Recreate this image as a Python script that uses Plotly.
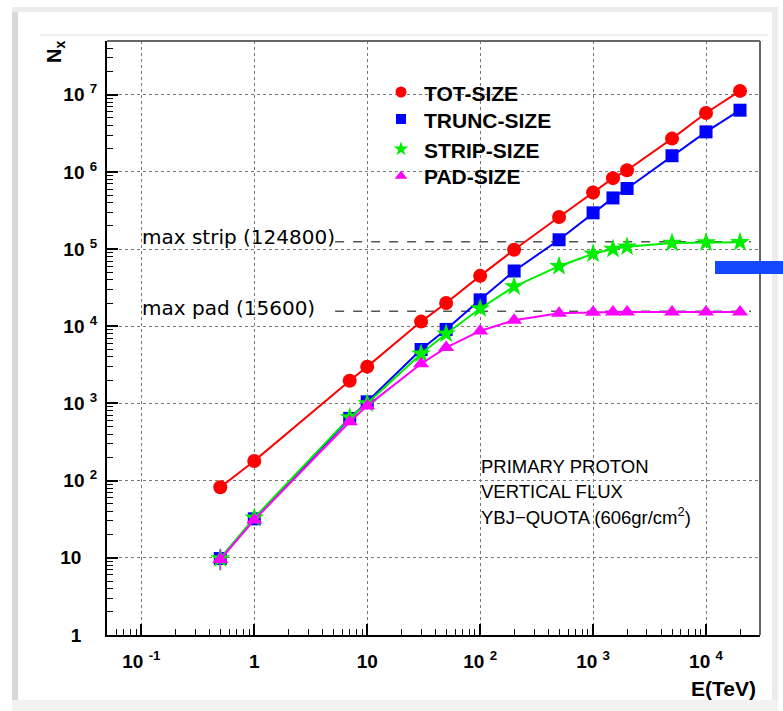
import plotly.graph_objects as go

# ---------------- data ----------------
energy = [0.5, 1, 7, 10, 30, 50, 100, 200, 500, 1000, 1500, 2000, 5000, 10000, 20000]
tot_size = [82, 180, 1970, 3000, 11500, 20000, 45000, 98000, 2.6e5, 5.4e5, 8.3e5,
            1.05e6, 2.7e6, 5.8e6, 1.12e7]
trunc_size = [9.8, 32, 640, 1050, 5000, 9100, 22000, 52000, 1.32e5, 2.95e5, 4.6e5,
              6.1e5, 1.62e6, 3.3e6, 6.3e6]
strip_size = [9.8, 33, 660, 1000, 4400, 8000, 17000, 32700, 60000, 87000, 1.0e5,
              1.07e5, 1.2e5, 1.22e5, 1.23e5]
pad_size = [9.5, 31, 580, 930, 3270, 5300, 8700, 12000, 14700, 15200, 15300,
            15300, 15300, 15300, 15300]
pad_err_plus = [3.5] + [0] * 14
pad_err_minus = [2.6] + [0] * 14

max_strip = 124800
max_pad = 15600
limit_x = [5.2, 25000]

x_tickvals = [0.1, 1, 10, 100, 1000, 10000]
x_ticktext = ["10 <sup>-1</sup>", "1", "10", "10 <sup>2</sup>", "10 <sup>3</sup>", "10 <sup>4</sup>"]
y_tickvals = [1, 10, 100, 1e3, 1e4, 1e5, 1e6, 1e7]
y_ticktext = ["1\u00a0\u00a0\u00a0", "10\u00a0\u00a0\u00a0", "10 <sup>2</sup>", "10 <sup>3</sup>",
              "10 <sup>4</sup>", "10 <sup>5</sup>", "10 <sup>6</sup>", "10 <sup>7</sup>"]

series = [
    ("TOT-SIZE", tot_size, "#ff0000", "circle", 14),
    ("TRUNC-SIZE", trunc_size, "#0000ff", "square", 13),
    ("STRIP-SIZE", strip_size, "#00ee00", "star", 15),
    ("PAD-SIZE", pad_size, "#ff00ff", "triangle-up", 14),
]

W, H = 783, 711
L, R, T, B = 107, 23, 41, 76
PW, PH = W - L - R, H - T - B


def fx(px):
    return (px - L) / PW


def fy(py):
    return (H - B - py) / PH


fig = go.Figure()

# dashed limit lines
for lim in (max_strip, max_pad):
    fig.add_trace(go.Scatter(x=limit_x, y=[lim, lim], mode="lines",
                             line=dict(color="#555555", width=1.5, dash="dash"),
                             showlegend=False, hoverinfo="skip"))

for name, vals, col, sym, sz in series:
    kw = {}
    if name == "PAD-SIZE":
        kw["error_y"] = dict(type="data", array=pad_err_plus, arrayminus=pad_err_minus,
                             color="#9b59d0", thickness=2, width=0)
    fig.add_trace(go.Scatter(x=energy, y=vals, mode="lines+markers", name=name,
                             line=dict(color=col, width=2),
                             marker=dict(color=col, symbol=sym, size=sz,
                                         line=dict(width=0)),
                             showlegend=False, **kw))

# legend keys drawn on an overlay axis in paper-like units
leg_rows = [92, 119, 149, 176]
leg_sizes = {"circle": 11, "square": 10, "star": 11, "triangle-up": 11}
annotations = []
for (name, vals, col, sym, sz), row in zip(series, leg_rows):
    fig.add_trace(go.Scatter(x=[fx(401)], y=[fy(row)], mode="markers", name=name,
                             marker=dict(color=col, symbol=sym, size=leg_sizes[sym]),
                             xaxis="x2", yaxis="y2", showlegend=False, hoverinfo="skip"))
    annotations.append(dict(text="<b>%s</b>" % name, xref="paper", yref="paper",
                            x=fx(422), y=fy(row + 1), showarrow=False,
                            xanchor="left", yanchor="middle",
                            font=dict(family="Liberation Sans", size=21, color="black")))

axis_common = dict(
    type="log", showline=True, linecolor="black", linewidth=2, mirror=False,
    ticks="inside", ticklen=11, tickwidth=1.5, tickcolor="black",
    showgrid=True, gridcolor="#777777", griddash="dot", gridwidth=1,
    zeroline=False, tickmode="array",
    tickfont=dict(family="Liberation Sans", size=19, color="black", weight="bold"),
)

minor_vals = []
for e in range(-2, 8):
    for m in range(2, 10):
        minor_vals.append(m * 10 ** e)

fig.update_xaxes(**axis_common, range=[-1.304, 4.478],
                 tickvals=x_tickvals, ticktext=x_ticktext, ticklabelstandoff=8,
                 minor=dict(tickmode="array", tickvals=minor_vals, ticks="inside",
                            ticklen=6, tickwidth=1.2, tickcolor="black", showgrid=False))
fig.update_yaxes(**axis_common, range=[0, 7.696],
                 tickvals=y_tickvals, ticktext=y_ticktext, ticklabelstandoff=4,
                 minor=dict(tickmode="array", tickvals=minor_vals, ticks="inside",
                            ticklen=6, tickwidth=1.2, tickcolor="black", showgrid=False))

shapes = [
    # top and right frame of the plot
    dict(type="line", xref="paper", yref="paper", x0=0, x1=1, y0=1, y1=1,
         line=dict(color="#666666", width=2)),
    dict(type="line", xref="paper", yref="paper", x0=1, x1=1, y0=0, y1=1,
         line=dict(color="#666666", width=2)),
    # blue artefact bar
    dict(type="rect", xref="paper", yref="paper", x0=fx(715), x1=fx(790),
         y0=fy(274), y1=fy(261), fillcolor="#1448ff", line=dict(width=0)),
    # faint outer frame
    dict(type="rect", xref="paper", yref="paper", x0=fx(12), x1=fx(18),
         y0=fy(715), y1=fy(8), fillcolor="#d8d8d8", line=dict(width=0), layer="below"),
    dict(type="rect", xref="paper", yref="paper", x0=fx(12), x1=fx(778),
         y0=fy(12), y1=fy(7), fillcolor="#ececec", line=dict(width=0), layer="below"),
    dict(type="rect", xref="paper", yref="paper", x0=fx(772), x1=fx(778),
         y0=fy(715), y1=fy(8), fillcolor="#ececec", line=dict(width=0), layer="below"),
    dict(type="rect", xref="paper", yref="paper", x0=fx(12), x1=fx(778),
         y0=fy(715), y1=fy(700), fillcolor="#f2f2f2", line=dict(width=0), layer="below"),
    dict(type="line", xref="paper", yref="paper", x0=fx(40), x1=fx(768),
         y0=fy(35), y1=fy(35), line=dict(color="#eeeeee", width=2), layer="below"),
]

annotations += [
    dict(text="<b>N<sub>x</sub></b>", xref="paper", yref="paper", x=fx(56), y=fy(52),
         textangle=-90, showarrow=False, font=dict(family="Liberation Sans", size=20, color="black"),
         xanchor="center", yanchor="middle"),
    dict(text="<b>E(TeV)</b>", xref="paper", yref="paper", x=fx(758), y=fy(688),
         showarrow=False, font=dict(family="Liberation Sans", size=21, color="black"),
         xanchor="right", yanchor="middle"),
    dict(text="max strip (124800)", xref="paper", yref="paper", x=fx(140), y=fy(237),
         showarrow=False, font=dict(family="DejaVu Sans", size=20, color="black"),
         xanchor="left", yanchor="middle"),
    dict(text="max pad (15600)", xref="paper", yref="paper", x=fx(140), y=fy(308),
         showarrow=False, font=dict(family="DejaVu Sans", size=20, color="black"),
         xanchor="left", yanchor="middle"),
]
for i, line in enumerate(["PRIMARY PROTON", "VERTICAL FLUX", "YBJ\u2212QUOTA (606gr/cm<sup>2</sup>)"]):
    annotations.append(dict(text=line, xref="paper", yref="paper", x=fx(479), y=fy(466 + 25 * i),
                            showarrow=False, font=dict(family="Liberation Sans", size=18.5, color="black"),
                            xanchor="left", yanchor="middle"))

fig.update_layout(
    width=W, height=H,
    margin=dict(l=L, r=R, t=T, b=B),
    paper_bgcolor="white", plot_bgcolor="white",
    shapes=shapes, annotations=annotations, showlegend=False,
    xaxis2=dict(overlaying="x", range=[0, 1], visible=False, fixedrange=True),
    yaxis2=dict(overlaying="y", range=[0, 1], visible=False, fixedrange=True),
)

fig.write_html("out.html")
